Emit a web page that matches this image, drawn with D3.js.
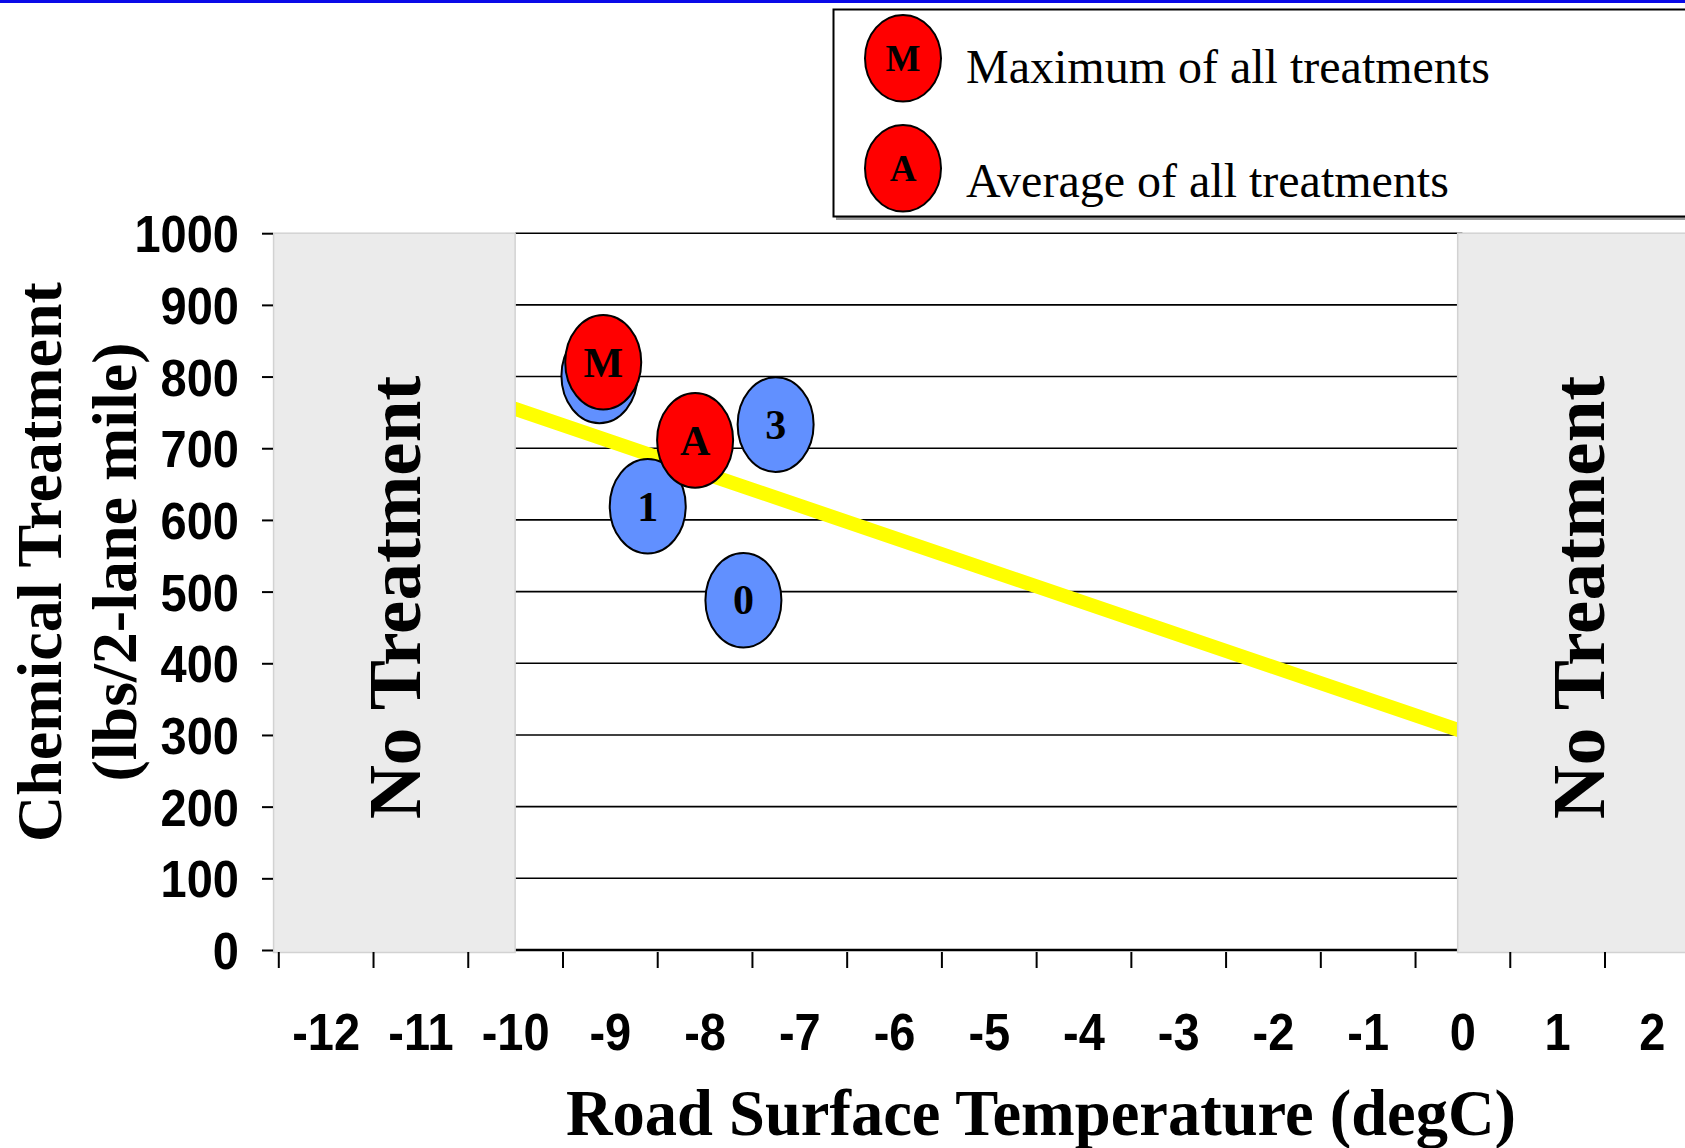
<!DOCTYPE html>
<html>
<head>
<meta charset="utf-8">
<script src="https://cdn.jsdelivr.net/npm/d3@7"></script>
<style>
  html, body { margin: 0; padding: 0; background: #fff; overflow: hidden; }
  svg { display: block; }
</style>
</head>
<body>
<svg id="chart" width="1685" height="1148"></svg>
<script>
// ---- data ----
const xCategories = [-12, -11, -10, -9, -8, -7, -6, -5, -4, -3, -2, -1, 0, 1, 2];
const yTicks = [0, 100, 200, 300, 400, 500, 600, 700, 800, 900, 1000];
const noTreatmentZones = [[-12.55, -10], [-0.05, 2.5]];
const trendTemps = [-10, 0];
const trendValues = [755, 305];
const treatmentLabels = ["", "1", "0", "3"];
const treatmentTemps = [-9.11, -8.60, -7.59, -7.25];
const treatmentValues = [801, 619, 488, 733];
const summaryLabels = ["M", "A"];
const summaryTemps = [-9.07, -8.10];
const summaryValues = [820, 711];
const legendItems = ["Maximum of all treatments", "Average of all treatments"];

const svg = d3.select("#chart");
const W = 1685, H = 1148;

const x = d3.scaleLinear().domain([-12.5, 1.5]).range([278.3, 1604.5]);
const y = d3.scaleLinear().domain([0, 1000]).range([950, 233.2]);

const SERIF = "'Liberation Serif', 'Times New Roman', serif";
const SANS = "'Liberation Sans', Arial, sans-serif";
const plainNum = d => String(d);

// top blue border
svg.append("rect").attr("x", 0).attr("y", 0).attr("width", W).attr("height", 3).attr("fill", "#0a0ae8");

// gridlines
svg.append("g").selectAll("line").data(yTicks).join("line")
  .attr("x1", x(-10)).attr("x2", x(0))
  .attr("y1", d => y(d)).attr("y2", d => y(d))
  .attr("stroke", "#000").attr("stroke-width", d => d === 0 ? 2.5 : 1.6);

// trend line (clipped to treated zone)
svg.append("clipPath").attr("id", "treated").append("rect")
  .attr("x", x(-10)).attr("y", 0).attr("width", x(-0.05) - x(-10)).attr("height", H);
svg.append("line")
  .attr("clip-path", "url(#treated)")
  .attr("x1", x(trendTemps[0])).attr("y1", y(trendValues[0]))
  .attr("x2", x(trendTemps[1])).attr("y2", y(trendValues[1]))
  .attr("stroke", "#ffff00").attr("stroke-width", 14).attr("stroke-linecap", "square");

// no-treatment zones
svg.append("g").selectAll("rect").data(noTreatmentZones).join("rect")
  .attr("x", d => x(d[0])).attr("y", y(1000))
  .attr("width", d => x(d[1]) - x(d[0])).attr("height", y(0) - y(1000) + 2.5)
  .attr("fill", "#ebebeb").attr("stroke", "#d2d2d2").attr("stroke-width", 1.5);

svg.append("g").selectAll("text").data(noTreatmentZones).join("text")
  .attr("transform", (d, i) => `translate(${(x(d[0]) + x(d[1])) / 2 + 26},597.5) rotate(-90)`)
  .attr("text-anchor", "middle")
  .attr("font-family", SERIF).attr("font-weight", "bold").attr("font-size", 75)
  .text("No Treatment");

// y axis ticks
const yAxis = d3.axisLeft(y).tickValues(yTicks).tickSize(11).tickPadding(23).tickFormat(plainNum);
const gy = svg.append("g").attr("transform", "translate(273,0)").call(yAxis);
gy.select(".domain").remove();
gy.selectAll(".tick line").attr("stroke", "#000").attr("stroke-width", 2);
gy.selectAll(".tick text")
  .attr("font-family", SANS).attr("font-weight", "bold").attr("font-size", 47)
  .attr("fill", "#000").attr("dy", "0.36em").attr("transform", "scale(1,1.1)");

// x axis tick marks at category boundaries
const boundaries = d3.range(-12.5, 2.0, 1);
const xAxisTicks = d3.axisBottom(x).tickValues(boundaries).tickSize(16).tickFormat("");
const gxt = svg.append("g").attr("transform", "translate(0,952)").call(xAxisTicks);
gxt.select(".domain").remove();
gxt.selectAll(".tick line").attr("stroke", "#000").attr("stroke-width", 2);

// x axis labels at category centres
const xAxisLabels = d3.axisBottom(x).tickValues(xCategories).tickSize(0).tickPadding(0).tickFormat(plainNum);
const gxl = svg.append("g").attr("transform", "translate(0,1050)").call(xAxisLabels);
gxl.select(".domain").remove();
gxl.selectAll(".tick text")
  .attr("font-family", SANS).attr("font-weight", "bold").attr("font-size", 47)
  .attr("fill", "#000").attr("dy", 0).attr("y", 0).attr("transform", "scale(1,1.1)");

// axis titles
svg.append("text")
  .attr("x", 1041).attr("y", 1135).attr("text-anchor", "middle")
  .attr("font-family", SERIF).attr("font-weight", "bold").attr("font-size", 64.5)
  .text("Road Surface Temperature (degC)");

const yTitle = svg.append("text")
  .attr("transform", "translate(0,562) rotate(-90)")
  .attr("text-anchor", "middle")
  .attr("font-family", SERIF).attr("font-weight", "bold").attr("font-size", 64);
yTitle.append("tspan").attr("x", 0).attr("y", 61).text("Chemical Treatment");
yTitle.append("tspan").attr("x", 0).attr("y", 136).text("(lbs/2-lane mile)");

// treatment points
const RX = 38, RY = 47.3;
const treatments = treatmentLabels.map((l, i) => ({ label: l, t: treatmentTemps[i], v: treatmentValues[i] }));
const summaries = summaryLabels.map((l, i) => ({ label: l, t: summaryTemps[i], v: summaryValues[i] }));

function drawPoints(data, fill) {
  const g = svg.append("g").selectAll("g").data(data).join("g")
    .attr("transform", d => `translate(${x(d.t)},${y(d.v)})`);
  g.append("ellipse").attr("rx", RX).attr("ry", RY)
    .attr("fill", fill).attr("stroke", "#000").attr("stroke-width", 2);
  g.filter(d => d.label !== "").append("text")
    .attr("text-anchor", "middle").attr("dy", "0.34em")
    .attr("font-family", SERIF).attr("font-weight", "bold").attr("font-size", 42)
    .text(d => d.label);
}
drawPoints(treatments, "#6190ff");
drawPoints(summaries, "#ff0000");

// legend
const lg = svg.append("g");
lg.append("rect").attr("x", 836).attr("y", 12).attr("width", 900).attr("height", 208).attr("fill", "#999");
lg.append("rect").attr("x", 833.5).attr("y", 9.5).attr("width", 900).attr("height", 207)
  .attr("fill", "#fff").attr("stroke", "#000").attr("stroke-width", 2);
const li = lg.selectAll("g.item").data(legendItems).join("g").attr("class", "item")
  .attr("transform", (d, i) => `translate(903,${58.3 + i * 110})`);
li.append("ellipse").attr("rx", 38).attr("ry", 43.3)
  .attr("fill", "#ff0000").attr("stroke", "#000").attr("stroke-width", 2);
li.append("text").attr("text-anchor", "middle").attr("dy", "0.34em")
  .attr("font-family", SERIF).attr("font-weight", "bold").attr("font-size", 37)
  .text((d, i) => summaryLabels[i]);
li.append("text").attr("x", 63).attr("y", (d, i) => i === 0 ? 25 : 28.5)
  .attr("font-family", SERIF).attr("font-size", 48)
  .text(d => d);
</script>
</body>
</html>
